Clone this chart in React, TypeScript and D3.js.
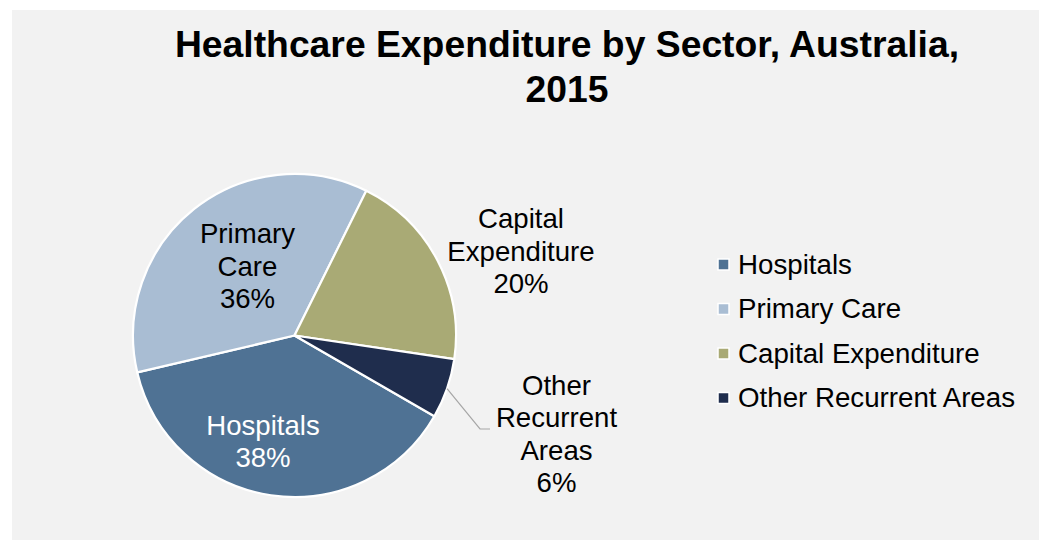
import React, { useEffect } from "react";
import * as d3 from "d3";

const categories = ["Hospitals", "Primary Care", "Capital Expenditure", "Other Recurrent Areas"];
const values = [38, 36, 20, 6];
const colors = ["#4f7294", "#a9bdd3", "#a9aa75", "#1f2d4d"];
const labelLines = [["Hospitals"], ["Primary", "Care"], ["Capital", "Expenditure"], ["Other", "Recurrent", "Areas"]];
const labelColors = ["#ffffff", "#000000", "#000000", "#000000"];
const titleLines = ["Healthcare Expenditure by Sector, Australia,", "2015"];

const W = 1039;
const H = 540;
const FONT = "'Liberation Sans', Arial, Helvetica, sans-serif";

export default function App() {
  useEffect(() => {
    document.body.style.margin = "0";
    document.body.style.overflow = "hidden";
    document.documentElement.style.overflow = "hidden";
  }, []);

  const cx = 294.5;
  const cy = 335.5;
  const R = 161.5;
  const start = (120 * Math.PI) / 180;
  const pie = d3
    .pie<number>()
    .sort(null)
    .value((d) => d)
    .startAngle(start)
    .endAngle(start + 2 * Math.PI);
  const arcs = pie(values);
  const arc = d3.arc<d3.PieArcDatum<number>>().innerRadius(0).outerRadius(R);
  const total = d3.sum(values);

  const labelPos = [
    { x: 263, y: 435 },
    { x: 247.5, y: 243.3 },
    { x: 521, y: 228.3 },
    { x: 556.5, y: 395 },
  ];
  const lh = 32.4;

  const oa = arcs[3];
  const mid = (oa.startAngle + oa.endAngle) / 2;
  const lx0 = cx + R * Math.sin(mid);
  const ly0 = cy - R * Math.cos(mid);
  const leader = `M${lx0},${ly0} L480,429 L490,429`;

  const legendY = d3.scaleLinear().domain([0, 1]).range([264.5, 309]);

  return (
    <svg
      width={W}
      height={H}
      style={{ position: "fixed", left: 0, top: 0, display: "block" }}
      fontFamily={FONT}
    >
      <rect x={0} y={0} width={W} height={H} fill="#ffffff" />
      <rect x={12} y={10} width={W - 12} height={H - 10} fill="#f2f2f2" />
      {titleLines.map((t, i) => (
        <text
          key={i}
          x={567}
          y={56.7 + i * 45}
          textAnchor="middle"
          fontWeight="bold"
          fontSize={37.3}
          fill="#000"
        >
          {t}
        </text>
      ))}
      <g transform={`translate(${cx},${cy})`}>
        {arcs.map((a, i) => (
          <path key={i} d={arc(a) || ""} fill={colors[i]} stroke="#ffffff" strokeWidth={2.2} strokeLinejoin="round" />
        ))}
      </g>
      <path d={leader} fill="none" stroke="#a6a6a6" strokeWidth={1.2} />
      {labelLines.map((lines, i) => {
        const pct = Math.round((values[i] / total) * 100) + "%";
        const all = [...lines, pct];
        return (
          <text key={i} textAnchor="middle" fontSize={27.6} fill={labelColors[i]}>
            {all.map((l, j) => (
              <tspan key={j} x={labelPos[i].x} y={labelPos[i].y + j * lh}>
                {l}
              </tspan>
            ))}
          </text>
        );
      })}
      {categories.map((c, i) => {
        const yc = legendY(i);
        return (
          <g key={c}>
            <rect x={718} y={yc - 5.5} width={11} height={11} fill={colors[i]} stroke="#ffffff" strokeWidth={1.5} />
            <text x={738} y={yc + 9} fontSize={27.7} fill="#000">
              {c}
            </text>
          </g>
        );
      })}
    </svg>
  );
}
